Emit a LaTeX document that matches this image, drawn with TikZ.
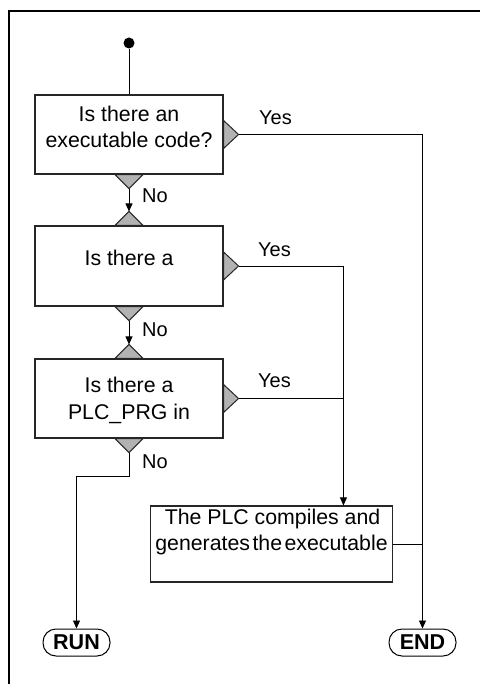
\documentclass[tikz,border=0pt]{standalone}
\usepackage{fontspec}
\setmainfont{Liberation Sans}
\usetikzlibrary{arrows.meta,calc}
\begin{document}
\begin{tikzpicture}[x=1pt,y=-1pt,
  box/.style={draw=black!85, line width=1.1pt, fill=white, inner sep=0pt, minimum width=188pt, minimum height=79pt},
  txt/.style={inner sep=0pt, anchor=base, font=\fontsize{21.3}{26}\selectfont},
  lbl/.style={inner sep=0pt, anchor=base west, font=\fontsize{20}{24}\selectfont},
  term/.style={draw, line width=1pt, rounded corners=13pt, minimum width=67pt, minimum height=27pt, inner sep=0pt, font=\fontsize{21.5}{24}\selectfont\bfseries},
  tri/.style={draw=black!85, line width=1pt, fill=gray!60, line join=miter},
  con/.style={line width=0.9pt},
  arr/.style={con, -{Triangle[length=8pt,width=7pt]}},
  frame/.style={line width=2pt}]
\useasboundingbox (0,0) rectangle (480,684);
% frame
\coordinate (fa) at (9,684);
\coordinate (fb) at (9,11);
\coordinate (fc) at (480,11);
\draw[frame] (fa) -- (fb) -- (fc);
% boxes
\node[box] (b1) at (129,134.5) {};
\node[box, minimum height=80pt] (b2) at (129,266) {};
\node[box] (b3) at (129,398.5) {};
\node[box, minimum width=242pt, minimum height=76pt] (cp) at (271.5,544) {};
\node[term] (run) at (76.5,642.5) {RUN};
\node[term] (end) at (422.5,642.5) {END};
% texts
\node[txt] (t1a) at (129,121.7) {Is there an};
\node[txt] (t1b) at (129,147.7) {executable code?};
\node[txt] (t2a) at (129,265.7) {Is there a};
\node[txt] (t3a) at (129,392) {Is there a};
\node[txt] (t3b) at (129,419) {PLC\_PRG in};
\node[txt] (tca) at (272.5,524) {The PLC compiles and};
\node[txt] (tcb) at (271.5,550.7) {generates\hspace{2.5pt}the\hspace{2.5pt}executable};
% triangles
\foreach \b in {b1,b2,b3}{
  \draw[tri] ($(\b.east)+(0,-14)$) -- ++(15,14) -- ++(-15,14) -- cycle;
  \draw[tri] ($(\b.south)+(-14,0)$) -- ++(14,14) -- ++(14,-14) -- cycle;
  \coordinate (\b y) at ($(\b.east)+(15,0)$);
  \coordinate (\b n) at ($(\b.south)+(0,14)$);
}
\foreach \b in {b2,b3}{
  \draw[tri] ($(\b.north)+(-14,0)$) -- ++(14,-14) -- ++(14,14) -- cycle;
  \coordinate (\b t) at ($(\b.north)+(0,-14)$);
}
% start
\node[circle, fill, inner sep=0pt, minimum size=11pt] (start) at (129,43) {};
\draw[con] (start) -- (b1.north);
% No connectors
\draw[arr] (b1n) -- (b2t);
\draw[arr] (b2n) -- (b3t);
\coordinate (bend) at ($(b3n)+(0,23.5)$);
\draw[arr] (b3n) -- (bend) -| (run.north);
% Yes connectors
\coordinate (cpin) at ($(cp.north west)+(193.5,0)$);
\draw[arr] (b1y) -| (end.north);
\draw[arr] (b2y) -| (cpin);
\draw[con] (b3y) -- (b3y -| cpin);
\draw[con] (cp.east) -- (cp.east -| end.north);
% labels
\node[lbl] (y1) at (259,125) {Yes};
\node[lbl] (y2) at (258,256.7) {Yes};
\node[lbl] (y3) at (258,387.7) {Yes};
\node[lbl] (n1) at (142,202.3) {No};
\node[lbl] (n2) at (142,336) {No};
\node[lbl] (n3) at (142,468.3) {No};
\end{tikzpicture}
\end{document}
